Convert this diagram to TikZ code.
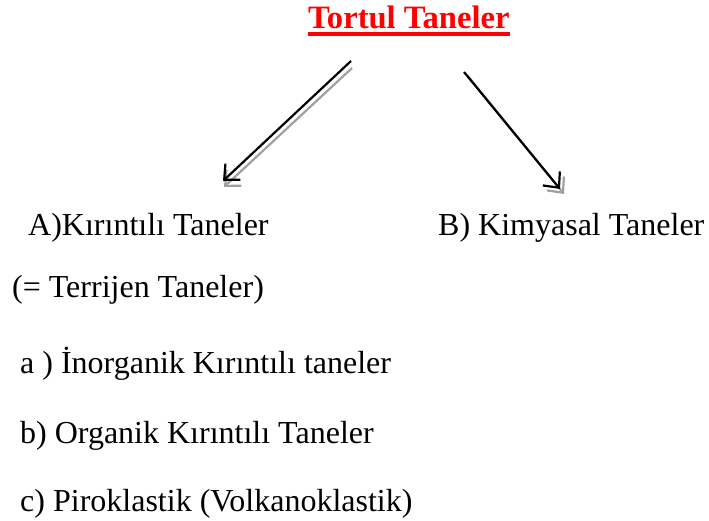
\documentclass[tikz,border=0pt]{standalone}
\usepackage{fontspec}
\setmainfont{Liberation Serif}
\usetikzlibrary{arrows.meta}
\definecolor{titlered}{RGB}{255,0,0}
\definecolor{shadowgray}{RGB}{160,160,160}
\tikzset{
  txt/.style={anchor=base west, inner sep=0pt, font=\fontsize{32}{36}\selectfont},
  arr/.style={line width=2.2pt, -{Straight Barb[length=12pt,width=22pt,line width=2.2pt]}},
  shadowarr/.style={arr, draw=shadowgray},
}
\begin{document}
\begin{tikzpicture}[x=1pt,y=-1pt]
\useasboundingbox (0,0) rectangle (709,521);
\node[txt, text=titlered, font=\fontsize{32.6}{36}\selectfont\bfseries] (title) at (308,29) {Tortul Taneler};
\draw[titlered, line width=3.5pt] ([yshift=-5pt]title.base west) -- ([yshift=-5pt]title.base east);
\node[txt] (A) at (28,236) {A)Kırıntılı Taneler};
\node[txt] (B) at (438,236) {B) Kimyasal Taneler};
\node[txt] (T) at (12,298) {(= Terrijen Taneler)};
\node[txt] (a) at (20,373) {a ) İnorganik Kırıntılı taneler};
\node[txt] (b) at (20,443) {b) Organik Kırıntılı Taneler};
\node[txt] (c) at (20,511) {c) Piroklastik (Volkanoklastik)};
\coordinate (l1) at (351,61);
\coordinate (l2) at (223,181);
\coordinate (r1) at (464,72);
\coordinate (r2) at (560,189);
\coordinate (ls1) at (352,68);
\coordinate (ls2) at (224,187);
\coordinate (rs1) at (467,75);
\coordinate (rs2) at (564,194);
\draw[shadowarr] (ls1) -- (ls2);
\draw[shadowarr] (rs1) -- (rs2);
\draw[arr] (l1) -- (l2);
\draw[arr] (r1) -- (r2);
\end{tikzpicture}
\end{document}
